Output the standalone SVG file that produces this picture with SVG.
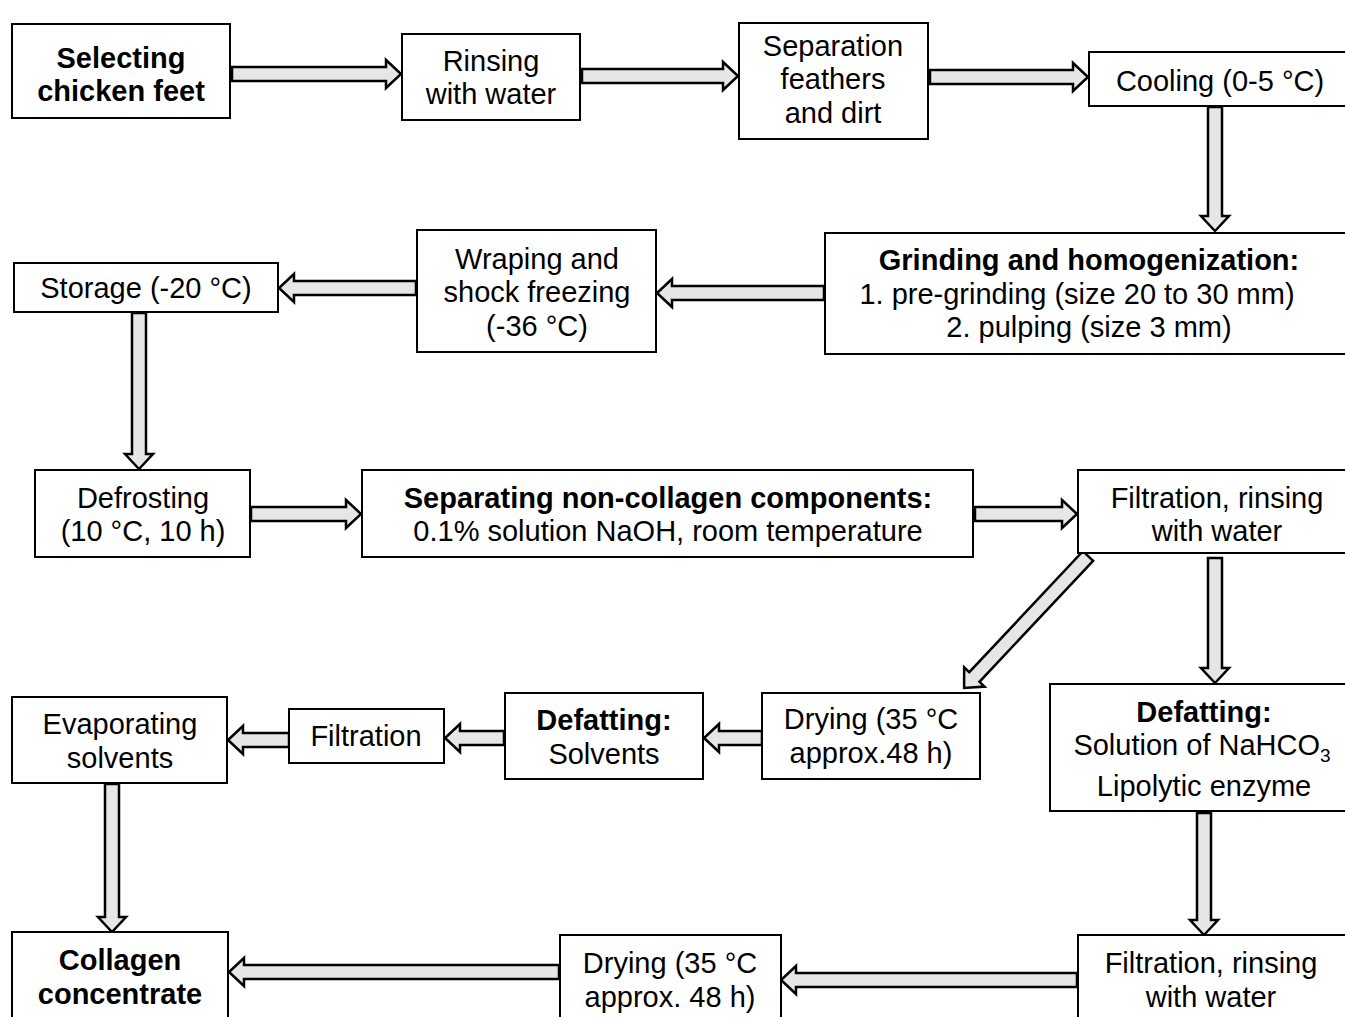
<svg xmlns="http://www.w3.org/2000/svg" width="1345" height="1017" viewBox="0 0 1345 1017">
<style>
.box{fill:#fff;stroke:#000;stroke-width:2}
.arr{fill:#e6e6e6;stroke:#000;stroke-width:2.5;stroke-linejoin:miter}
text{font-family:"Liberation Sans",Arial,sans-serif;font-size:29px;fill:#000;text-anchor:middle}
.b{font-weight:bold}
</style>
<rect width="1345" height="1017" fill="#fff"/>
<g id="connectors">
<polygon class="arr" transform="translate(232,74)" points="0,-7 154,-7 154,-14 169,0 154,14 154,7 0,7"/>
<polygon class="arr" transform="translate(582,76)" points="0,-7 141,-7 141,-14 156,0 141,14 141,7 0,7"/>
<polygon class="arr" transform="translate(930,77)" points="0,-7 143,-7 143,-14 158,0 143,14 143,7 0,7"/>
<polygon class="arr" transform="translate(1215,107) rotate(90)" points="0,-7 109,-7 109,-14 124,0 109,14 109,7 0,7"/>
<polygon class="arr" transform="translate(824,293) rotate(180)" points="0,-7 152,-7 152,-14 167,0 152,14 152,7 0,7"/>
<polygon class="arr" transform="translate(416,288) rotate(180)" points="0,-7 122,-7 122,-14 137,0 122,14 122,7 0,7"/>
<polygon class="arr" transform="translate(139,313) rotate(90)" points="0,-7 141,-7 141,-14 156,0 141,14 141,7 0,7"/>
<polygon class="arr" transform="translate(251,514)" points="0,-7 95,-7 95,-14 110,0 95,14 95,7 0,7"/>
<polygon class="arr" transform="translate(975,514)" points="0,-7 87,-7 87,-14 102,0 87,14 87,7 0,7"/>
<polygon class="arr" transform="translate(1088,556) rotate(133.2)" points="0,-7 166,-7 166,-14 181,0 166,14 166,7 0,7"/>
<polygon class="arr" transform="translate(1215,558) rotate(90)" points="0,-7 110,-7 110,-14 125,0 110,14 110,7 0,7"/>
<polygon class="arr" transform="translate(762,738) rotate(180)" points="0,-7 43,-7 43,-14 58,0 43,14 43,7 0,7"/>
<polygon class="arr" transform="translate(504,738) rotate(180)" points="0,-7 44,-7 44,-14 59,0 44,14 44,7 0,7"/>
<polygon class="arr" transform="translate(289,740) rotate(180)" points="0,-7 46,-7 46,-14 61,0 46,14 46,7 0,7"/>
<polygon class="arr" transform="translate(112,784) rotate(90)" points="0,-7 133,-7 133,-14 148,0 133,14 133,7 0,7"/>
<polygon class="arr" transform="translate(1204,813) rotate(90)" points="0,-7 107,-7 107,-14 122,0 107,14 107,7 0,7"/>
<polygon class="arr" transform="translate(1077,980) rotate(180)" points="0,-7 281,-7 281,-14 296,0 281,14 281,7 0,7"/>
<polygon class="arr" transform="translate(559,972) rotate(180)" points="0,-7 315,-7 315,-14 330,0 315,14 315,7 0,7"/>
</g>
<g id="n1"><rect class="box" x="12" y="24" width="218" height="94"/><text class="b" x="121" y="68">Selecting</text><text class="b" x="121" y="101">chicken feet</text></g>
<g id="n2"><rect class="box" x="402" y="34" width="178" height="86"/><text x="491" y="71">Rinsing</text><text x="491" y="104">with water</text></g>
<g id="n3"><rect class="box" x="739" y="23" width="189" height="116"/><text x="833" y="56">Separation</text><text x="833" y="89">feathers</text><text x="833" y="123">and dirt</text></g>
<g id="n4"><rect class="box" x="1089" y="52" width="270" height="54"/><text x="1220" y="91">Cooling (0-5 °C)</text></g>
<g id="n5"><rect class="box" x="825" y="233" width="530" height="121"/><text class="b" x="1089" y="270">Grinding and homogenization:</text><text x="1077" y="304" font-size="30.5">1. pre-grinding (size 20 to 30 mm)</text><text x="1089" y="337">2. pulping (size 3 mm)</text></g>
<g id="n6"><rect class="box" x="417" y="230" width="239" height="122"/><text x="537" y="269">Wraping and</text><text x="537" y="302">shock freezing</text><text x="537" y="336">(-36 °C)</text></g>
<g id="n7"><rect class="box" x="14" y="263" width="264" height="49"/><text x="146" y="298">Storage (-20 °C)</text></g>
<g id="n8"><rect class="box" x="35" y="470" width="215" height="87"/><text x="143" y="508">Defrosting</text><text x="143" y="541">(10 °C, 10 h)</text></g>
<g id="n9"><rect class="box" x="362" y="470" width="611" height="87"/><text class="b" x="668" y="508">Separating non-collagen components:</text><text x="668" y="541">0.1% solution NaOH, room temperature</text></g>
<g id="n10"><rect class="box" x="1078" y="470" width="280" height="83"/><text x="1217" y="508">Filtration, rinsing</text><text x="1217" y="541">with water</text></g>
<g id="n11"><rect class="box" x="762" y="693" width="218" height="86"/><text x="871" y="729">Drying (35 °C</text><text x="871" y="763">approx.48 h)</text></g>
<g id="n12"><rect class="box" x="505" y="693" width="198" height="86"/><text class="b" x="604" y="730">Defatting:</text><text x="604" y="764">Solvents</text></g>
<g id="n13"><rect class="box" x="289" y="709" width="155" height="54"/><text x="366" y="746">Filtration</text></g>
<g id="n14"><rect class="box" x="12" y="697" width="215" height="86"/><text x="120" y="734">Evaporating</text><text x="120" y="768">solvents</text></g>
<g id="n15"><rect class="box" x="1050" y="684" width="305" height="127"/><text class="b" x="1204" y="722">Defatting:</text><text x="1202" y="755">Solution of NaHCO<tspan font-size="19" dy="7">3</tspan></text><text x="1204" y="796">Lipolytic enzyme</text></g>
<g id="n16"><rect class="box" x="1078" y="935" width="280" height="100"/><text x="1211" y="973">Filtration, rinsing</text><text x="1211" y="1007">with water</text></g>
<g id="n17"><rect class="box" x="560" y="935" width="221" height="100"/><text x="670" y="973">Drying (35 °C</text><text x="670" y="1007">approx. 48 h)</text></g>
<g id="n18"><rect class="box" x="12" y="932" width="216" height="100"/><text class="b" x="120" y="970">Collagen</text><text class="b" x="120" y="1004">concentrate</text></g>
</svg>
